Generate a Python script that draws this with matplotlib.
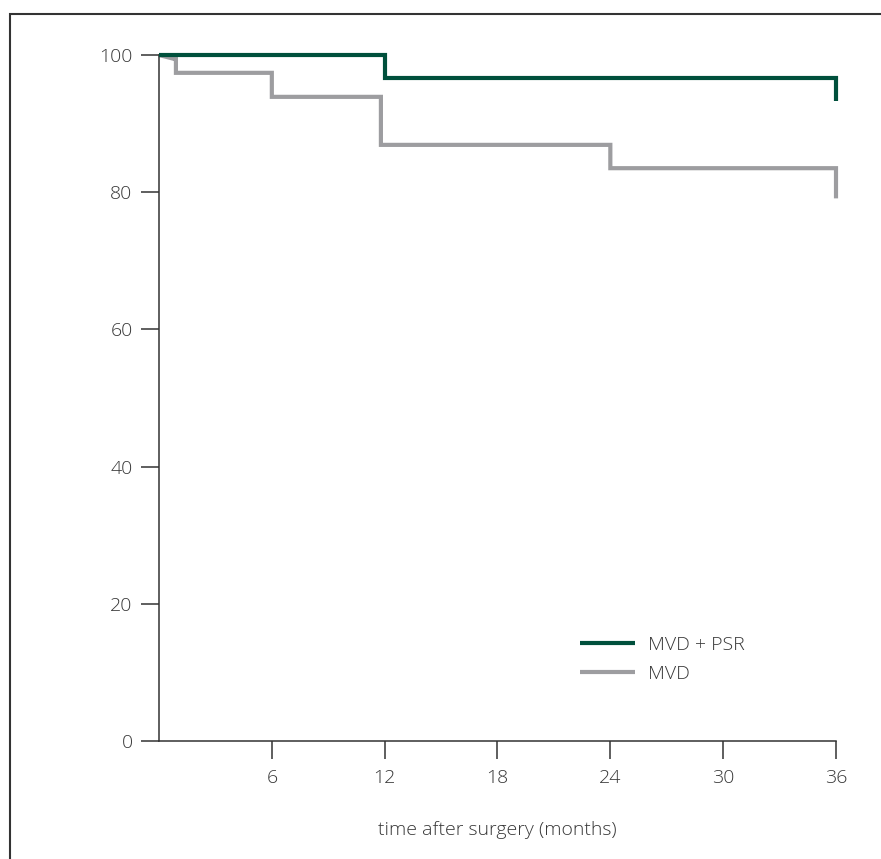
import matplotlib as mpl
mpl.use("Agg")
import matplotlib.pyplot as plt
from matplotlib.patches import Rectangle

# Kaplan-Meier style curves, vertices
PSR_T = [0, 12, 12, 36, 36]
PSR_S = [100, 100, 96.7, 96.7, 93.3]

MVD_T = [0, 0.85, 0.9, 0.9, 6, 6, 11.8, 11.8, 24, 24, 36, 36]
MVD_S = [100, 99.4, 99.4, 97.4, 97.4, 93.9, 93.9, 86.9, 86.9, 83.5, 83.5, 79.1]

XTICKS = [6, 12, 18, 24, 30, 36]
YTICKS = [0, 20, 40, 60, 80, 100]

GREEN = "#00503c"
GREY = "#9d9da0"
TEXT = "#383838"

mpl.rcParams.update({
    "font.family": ["Open Sans", "DejaVu Sans"],
    "font.weight": "light",
    "font.size": 14,
})

fig = plt.figure(figsize=(8.81, 8.59), dpi=100)
ax = fig.add_axes((159 / 881, 118 / 859, 677 / 881, 686 / 859))

# outer frame (left and top edges visible)
fig.patches.append(Rectangle((10 / 881, -0.05), 1.1, 1.05 - 14 / 859,
                             transform=fig.transFigure, fill=False,
                             edgecolor="#333333", linewidth=1.5))

ax.plot(PSR_T, PSR_S, color=GREEN, lw=3, label="MVD + PSR",
        solid_joinstyle="miter", solid_capstyle="butt", clip_on=False, zorder=3)
ax.plot(MVD_T, MVD_S, color=GREY, lw=3, label="MVD",
        solid_joinstyle="miter", solid_capstyle="butt", clip_on=False, zorder=2)

ax.set_xlim(0, 36)
ax.set_ylim(0, 100)
ax.set_xticks(XTICKS)
ax.set_yticks(YTICKS)
for s in ("top", "right"):
    ax.spines[s].set_visible(False)
for s in ("left", "bottom"):
    ax.spines[s].set_color("#333333")
    ax.spines[s].set_linewidth(1.1)
ax.tick_params(direction="out", length=13, width=1.1, color="#333333",
               labelcolor=TEXT, labelsize=14, pad=6)
ax.tick_params(axis="x", pad=7.5)

ax.set_xlabel("time after surgery (months)", color=TEXT, fontsize=14,
              fontweight="light", labelpad=24)

ax.legend(loc="upper left", bbox_to_anchor=(0.622, 0.153), frameon=False,
          borderpad=0, borderaxespad=0, handlelength=2.8, handletextpad=0.67,
          labelspacing=0.55, labelcolor=TEXT, fontsize=14)

plt.savefig("out.png", dpi=100)
